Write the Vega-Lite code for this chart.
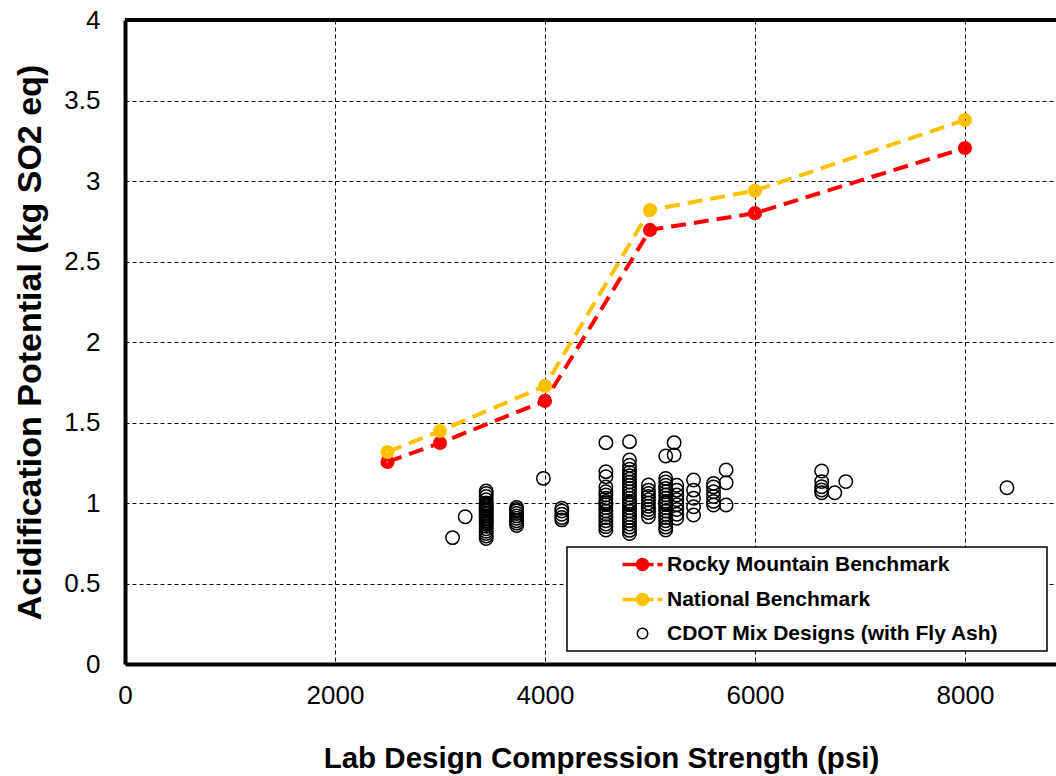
{
  "$schema": "https://vega.github.io/schema/vega-lite/v6.json",
  "width": 931,
  "height": 644,
  "autosize": "none",
  "padding": {"left": 125, "top": 20, "right": 0, "bottom": 112},
  "background": "white",
  "config": {"view": {"stroke": null}, "font": "Liberation Sans"},
  "datasets": {
    "main": [
      {"s": "Rocky Mountain Benchmark", "x": 2500, "y": 1.255},
      {"s": "Rocky Mountain Benchmark", "x": 3000, "y": 1.373},
      {"s": "Rocky Mountain Benchmark", "x": 4000, "y": 1.634},
      {"s": "Rocky Mountain Benchmark", "x": 5000, "y": 2.696},
      {"s": "Rocky Mountain Benchmark", "x": 6000, "y": 2.8},
      {"s": "Rocky Mountain Benchmark", "x": 8000, "y": 3.205},
      {"s": "National Benchmark", "x": 2500, "y": 1.317},
      {"s": "National Benchmark", "x": 3000, "y": 1.447},
      {"s": "National Benchmark", "x": 4000, "y": 1.727},
      {"s": "National Benchmark", "x": 5000, "y": 2.82},
      {"s": "National Benchmark", "x": 6000, "y": 2.94},
      {"s": "National Benchmark", "x": 8000, "y": 3.379},
      {"s": "CDOT Mix Designs (with Fly Ash)", "x": 3120, "y": 0.785},
      {"s": "CDOT Mix Designs (with Fly Ash)", "x": 3240, "y": 0.915},
      {"s": "CDOT Mix Designs (with Fly Ash)", "x": 3440, "y": 0.78},
      {"s": "CDOT Mix Designs (with Fly Ash)", "x": 3440, "y": 0.795},
      {"s": "CDOT Mix Designs (with Fly Ash)", "x": 3440, "y": 0.81},
      {"s": "CDOT Mix Designs (with Fly Ash)", "x": 3440, "y": 0.825},
      {"s": "CDOT Mix Designs (with Fly Ash)", "x": 3440, "y": 0.84},
      {"s": "CDOT Mix Designs (with Fly Ash)", "x": 3440, "y": 0.855},
      {"s": "CDOT Mix Designs (with Fly Ash)", "x": 3440, "y": 0.87},
      {"s": "CDOT Mix Designs (with Fly Ash)", "x": 3440, "y": 0.88},
      {"s": "CDOT Mix Designs (with Fly Ash)", "x": 3440, "y": 0.89},
      {"s": "CDOT Mix Designs (with Fly Ash)", "x": 3440, "y": 0.9},
      {"s": "CDOT Mix Designs (with Fly Ash)", "x": 3440, "y": 0.91},
      {"s": "CDOT Mix Designs (with Fly Ash)", "x": 3440, "y": 0.92},
      {"s": "CDOT Mix Designs (with Fly Ash)", "x": 3440, "y": 0.93},
      {"s": "CDOT Mix Designs (with Fly Ash)", "x": 3440, "y": 0.94},
      {"s": "CDOT Mix Designs (with Fly Ash)", "x": 3440, "y": 0.95},
      {"s": "CDOT Mix Designs (with Fly Ash)", "x": 3440, "y": 0.96},
      {"s": "CDOT Mix Designs (with Fly Ash)", "x": 3440, "y": 0.97},
      {"s": "CDOT Mix Designs (with Fly Ash)", "x": 3440, "y": 0.98},
      {"s": "CDOT Mix Designs (with Fly Ash)", "x": 3440, "y": 0.99},
      {"s": "CDOT Mix Designs (with Fly Ash)", "x": 3440, "y": 1.0},
      {"s": "CDOT Mix Designs (with Fly Ash)", "x": 3440, "y": 1.02},
      {"s": "CDOT Mix Designs (with Fly Ash)", "x": 3440, "y": 1.04},
      {"s": "CDOT Mix Designs (with Fly Ash)", "x": 3440, "y": 1.06},
      {"s": "CDOT Mix Designs (with Fly Ash)", "x": 3440, "y": 1.075},
      {"s": "CDOT Mix Designs (with Fly Ash)", "x": 3730, "y": 0.86},
      {"s": "CDOT Mix Designs (with Fly Ash)", "x": 3730, "y": 0.875},
      {"s": "CDOT Mix Designs (with Fly Ash)", "x": 3730, "y": 0.89},
      {"s": "CDOT Mix Designs (with Fly Ash)", "x": 3730, "y": 0.905},
      {"s": "CDOT Mix Designs (with Fly Ash)", "x": 3730, "y": 0.92},
      {"s": "CDOT Mix Designs (with Fly Ash)", "x": 3730, "y": 0.935},
      {"s": "CDOT Mix Designs (with Fly Ash)", "x": 3730, "y": 0.95},
      {"s": "CDOT Mix Designs (with Fly Ash)", "x": 3730, "y": 0.96},
      {"s": "CDOT Mix Designs (with Fly Ash)", "x": 3730, "y": 0.973},
      {"s": "CDOT Mix Designs (with Fly Ash)", "x": 3985, "y": 1.153},
      {"s": "CDOT Mix Designs (with Fly Ash)", "x": 4160, "y": 0.895},
      {"s": "CDOT Mix Designs (with Fly Ash)", "x": 4160, "y": 0.91},
      {"s": "CDOT Mix Designs (with Fly Ash)", "x": 4160, "y": 0.93},
      {"s": "CDOT Mix Designs (with Fly Ash)", "x": 4160, "y": 0.95},
      {"s": "CDOT Mix Designs (with Fly Ash)", "x": 4160, "y": 0.967},
      {"s": "CDOT Mix Designs (with Fly Ash)", "x": 4580, "y": 0.832},
      {"s": "CDOT Mix Designs (with Fly Ash)", "x": 4580, "y": 0.853},
      {"s": "CDOT Mix Designs (with Fly Ash)", "x": 4580, "y": 0.87},
      {"s": "CDOT Mix Designs (with Fly Ash)", "x": 4580, "y": 0.89},
      {"s": "CDOT Mix Designs (with Fly Ash)", "x": 4580, "y": 0.91},
      {"s": "CDOT Mix Designs (with Fly Ash)", "x": 4580, "y": 0.93},
      {"s": "CDOT Mix Designs (with Fly Ash)", "x": 4580, "y": 0.95},
      {"s": "CDOT Mix Designs (with Fly Ash)", "x": 4580, "y": 0.97},
      {"s": "CDOT Mix Designs (with Fly Ash)", "x": 4580, "y": 0.99},
      {"s": "CDOT Mix Designs (with Fly Ash)", "x": 4580, "y": 1.0},
      {"s": "CDOT Mix Designs (with Fly Ash)", "x": 4580, "y": 1.01},
      {"s": "CDOT Mix Designs (with Fly Ash)", "x": 4580, "y": 1.03},
      {"s": "CDOT Mix Designs (with Fly Ash)", "x": 4580, "y": 1.05},
      {"s": "CDOT Mix Designs (with Fly Ash)", "x": 4580, "y": 1.07},
      {"s": "CDOT Mix Designs (with Fly Ash)", "x": 4580, "y": 1.1},
      {"s": "CDOT Mix Designs (with Fly Ash)", "x": 4580, "y": 1.163},
      {"s": "CDOT Mix Designs (with Fly Ash)", "x": 4580, "y": 1.195},
      {"s": "CDOT Mix Designs (with Fly Ash)", "x": 4580, "y": 1.375},
      {"s": "CDOT Mix Designs (with Fly Ash)", "x": 4805, "y": 0.81},
      {"s": "CDOT Mix Designs (with Fly Ash)", "x": 4805, "y": 0.83},
      {"s": "CDOT Mix Designs (with Fly Ash)", "x": 4805, "y": 0.85},
      {"s": "CDOT Mix Designs (with Fly Ash)", "x": 4805, "y": 0.87},
      {"s": "CDOT Mix Designs (with Fly Ash)", "x": 4805, "y": 0.89},
      {"s": "CDOT Mix Designs (with Fly Ash)", "x": 4805, "y": 0.91},
      {"s": "CDOT Mix Designs (with Fly Ash)", "x": 4805, "y": 0.93},
      {"s": "CDOT Mix Designs (with Fly Ash)", "x": 4805, "y": 0.95},
      {"s": "CDOT Mix Designs (with Fly Ash)", "x": 4805, "y": 0.97},
      {"s": "CDOT Mix Designs (with Fly Ash)", "x": 4805, "y": 0.99},
      {"s": "CDOT Mix Designs (with Fly Ash)", "x": 4805, "y": 1.0},
      {"s": "CDOT Mix Designs (with Fly Ash)", "x": 4805, "y": 1.01},
      {"s": "CDOT Mix Designs (with Fly Ash)", "x": 4805, "y": 1.03},
      {"s": "CDOT Mix Designs (with Fly Ash)", "x": 4805, "y": 1.05},
      {"s": "CDOT Mix Designs (with Fly Ash)", "x": 4805, "y": 1.07},
      {"s": "CDOT Mix Designs (with Fly Ash)", "x": 4805, "y": 1.09},
      {"s": "CDOT Mix Designs (with Fly Ash)", "x": 4805, "y": 1.11},
      {"s": "CDOT Mix Designs (with Fly Ash)", "x": 4805, "y": 1.13},
      {"s": "CDOT Mix Designs (with Fly Ash)", "x": 4805, "y": 1.15},
      {"s": "CDOT Mix Designs (with Fly Ash)", "x": 4805, "y": 1.17},
      {"s": "CDOT Mix Designs (with Fly Ash)", "x": 4805, "y": 1.19},
      {"s": "CDOT Mix Designs (with Fly Ash)", "x": 4805, "y": 1.21},
      {"s": "CDOT Mix Designs (with Fly Ash)", "x": 4805, "y": 1.235},
      {"s": "CDOT Mix Designs (with Fly Ash)", "x": 4805, "y": 1.267},
      {"s": "CDOT Mix Designs (with Fly Ash)", "x": 4805, "y": 1.381},
      {"s": "CDOT Mix Designs (with Fly Ash)", "x": 4985, "y": 0.915},
      {"s": "CDOT Mix Designs (with Fly Ash)", "x": 4985, "y": 0.94},
      {"s": "CDOT Mix Designs (with Fly Ash)", "x": 4985, "y": 0.96},
      {"s": "CDOT Mix Designs (with Fly Ash)", "x": 4985, "y": 0.98},
      {"s": "CDOT Mix Designs (with Fly Ash)", "x": 4985, "y": 1.0},
      {"s": "CDOT Mix Designs (with Fly Ash)", "x": 4985, "y": 1.02},
      {"s": "CDOT Mix Designs (with Fly Ash)", "x": 4985, "y": 1.04},
      {"s": "CDOT Mix Designs (with Fly Ash)", "x": 4985, "y": 1.06},
      {"s": "CDOT Mix Designs (with Fly Ash)", "x": 4985, "y": 1.08},
      {"s": "CDOT Mix Designs (with Fly Ash)", "x": 4985, "y": 1.112},
      {"s": "CDOT Mix Designs (with Fly Ash)", "x": 5150, "y": 0.832},
      {"s": "CDOT Mix Designs (with Fly Ash)", "x": 5150, "y": 0.85},
      {"s": "CDOT Mix Designs (with Fly Ash)", "x": 5150, "y": 0.87},
      {"s": "CDOT Mix Designs (with Fly Ash)", "x": 5150, "y": 0.89},
      {"s": "CDOT Mix Designs (with Fly Ash)", "x": 5150, "y": 0.91},
      {"s": "CDOT Mix Designs (with Fly Ash)", "x": 5150, "y": 0.93},
      {"s": "CDOT Mix Designs (with Fly Ash)", "x": 5150, "y": 0.95},
      {"s": "CDOT Mix Designs (with Fly Ash)", "x": 5150, "y": 0.97},
      {"s": "CDOT Mix Designs (with Fly Ash)", "x": 5150, "y": 0.99},
      {"s": "CDOT Mix Designs (with Fly Ash)", "x": 5150, "y": 1.0},
      {"s": "CDOT Mix Designs (with Fly Ash)", "x": 5150, "y": 1.01},
      {"s": "CDOT Mix Designs (with Fly Ash)", "x": 5150, "y": 1.03},
      {"s": "CDOT Mix Designs (with Fly Ash)", "x": 5150, "y": 1.05},
      {"s": "CDOT Mix Designs (with Fly Ash)", "x": 5150, "y": 1.07},
      {"s": "CDOT Mix Designs (with Fly Ash)", "x": 5150, "y": 1.09},
      {"s": "CDOT Mix Designs (with Fly Ash)", "x": 5150, "y": 1.11},
      {"s": "CDOT Mix Designs (with Fly Ash)", "x": 5150, "y": 1.13},
      {"s": "CDOT Mix Designs (with Fly Ash)", "x": 5150, "y": 1.153},
      {"s": "CDOT Mix Designs (with Fly Ash)", "x": 5150, "y": 1.292},
      {"s": "CDOT Mix Designs (with Fly Ash)", "x": 5230, "y": 1.375},
      {"s": "CDOT Mix Designs (with Fly Ash)", "x": 5230, "y": 1.298},
      {"s": "CDOT Mix Designs (with Fly Ash)", "x": 5255, "y": 0.905},
      {"s": "CDOT Mix Designs (with Fly Ash)", "x": 5255, "y": 0.93},
      {"s": "CDOT Mix Designs (with Fly Ash)", "x": 5255, "y": 0.96},
      {"s": "CDOT Mix Designs (with Fly Ash)", "x": 5255, "y": 0.99},
      {"s": "CDOT Mix Designs (with Fly Ash)", "x": 5255, "y": 1.02},
      {"s": "CDOT Mix Designs (with Fly Ash)", "x": 5255, "y": 1.05},
      {"s": "CDOT Mix Designs (with Fly Ash)", "x": 5255, "y": 1.08},
      {"s": "CDOT Mix Designs (with Fly Ash)", "x": 5255, "y": 1.11},
      {"s": "CDOT Mix Designs (with Fly Ash)", "x": 5415, "y": 0.925},
      {"s": "CDOT Mix Designs (with Fly Ash)", "x": 5415, "y": 0.977},
      {"s": "CDOT Mix Designs (with Fly Ash)", "x": 5415, "y": 1.029},
      {"s": "CDOT Mix Designs (with Fly Ash)", "x": 5415, "y": 1.08},
      {"s": "CDOT Mix Designs (with Fly Ash)", "x": 5415, "y": 1.143},
      {"s": "CDOT Mix Designs (with Fly Ash)", "x": 5605, "y": 0.988},
      {"s": "CDOT Mix Designs (with Fly Ash)", "x": 5605, "y": 1.01},
      {"s": "CDOT Mix Designs (with Fly Ash)", "x": 5605, "y": 1.04},
      {"s": "CDOT Mix Designs (with Fly Ash)", "x": 5605, "y": 1.07},
      {"s": "CDOT Mix Designs (with Fly Ash)", "x": 5605, "y": 1.1},
      {"s": "CDOT Mix Designs (with Fly Ash)", "x": 5605, "y": 1.122},
      {"s": "CDOT Mix Designs (with Fly Ash)", "x": 5725, "y": 0.988},
      {"s": "CDOT Mix Designs (with Fly Ash)", "x": 5725, "y": 1.126},
      {"s": "CDOT Mix Designs (with Fly Ash)", "x": 5725, "y": 1.205},
      {"s": "CDOT Mix Designs (with Fly Ash)", "x": 6635, "y": 1.064},
      {"s": "CDOT Mix Designs (with Fly Ash)", "x": 6635, "y": 1.081},
      {"s": "CDOT Mix Designs (with Fly Ash)", "x": 6635, "y": 1.101},
      {"s": "CDOT Mix Designs (with Fly Ash)", "x": 6635, "y": 1.133},
      {"s": "CDOT Mix Designs (with Fly Ash)", "x": 6635, "y": 1.199},
      {"s": "CDOT Mix Designs (with Fly Ash)", "x": 6760, "y": 1.064},
      {"s": "CDOT Mix Designs (with Fly Ash)", "x": 6865, "y": 1.133},
      {"s": "CDOT Mix Designs (with Fly Ash)", "x": 8400, "y": 1.095}
    ],
    "border": [{"top": 4}]
  },
  "layer": [
    {
      "data": {"name": "border"},
      "mark": {"type": "rule", "color": "black", "strokeWidth": 4},
      "encoding": {
        "y": {"field": "top", "type": "quantitative", "scale": {"domain": [0, 4], "nice": false}}
      }
    },
    {
      "data": {"name": "main"},
      "transform": [{"filter": "datum.s !== 'CDOT Mix Designs (with Fly Ash)'"}],
      "mark": {"type": "line", "strokeDash": [15, 8], "strokeWidth": 4},
      "encoding": {
        "x": {
          "field": "x", "type": "quantitative",
          "scale": {"domain": [0, 8867], "nice": false, "zero": false},
          "axis": {
            "title": "Lab Design Compression Strength (psi)",
            "values": [0, 2000, 4000, 6000, 8000],
            "format": "d",
            "grid": true, "gridColor": "black", "gridDash": [4, 3], "gridWidth": 1, "gridOpacity": 1,
            "ticks": false, "tickSize": 0,
            "domain": true, "domainColor": "black", "domainWidth": 4,
            "labelFont": "Liberation Sans", "labelFontSize": 26, "labelColor": "black", "labelPadding": 18,
            "labelBaseline": "top", "labelFlush": false,
            "titleFont": "Liberation Sans", "titleFontSize": 29.5, "titleFontWeight": "bold", "titleColor": "black",
            "titleX": 476, "titleY": 103, "titleBaseline": "alphabetic", "titleAlign": "center"
          }
        },
        "y": {
          "field": "y", "type": "quantitative",
          "scale": {"domain": [0, 4], "nice": false},
          "axis": {
            "title": "Acidification Potential (kg SO2 eq)",
            "values": [0, 0.5, 1, 1.5, 2, 2.5, 3, 3.5, 4],
            "format": "~g",
            "grid": true, "gridColor": "black", "gridDash": [4, 3], "gridWidth": 1, "gridOpacity": 1,
            "ticks": false, "tickSize": 0,
            "domain": true, "domainColor": "black", "domainWidth": 4,
            "labelFont": "Liberation Sans", "labelFontSize": 26, "labelColor": "black", "labelPadding": 25,
            "labelFlush": false,
            "titleFont": "Liberation Sans", "titleFontSize": 34, "titleFontWeight": "bold", "titleColor": "black",
            "titleX": -95, "titleY": 322, "titleAngle": -90, "titleBaseline": "middle", "titleAlign": "center"
          }
        },
        "color": {
          "field": "s", "type": "nominal",
          "scale": {
            "domain": ["Rocky Mountain Benchmark", "National Benchmark", "CDOT Mix Designs (with Fly Ash)"],
            "range": ["#FF0000", "#FFC000", "#000000"]
          },
          "legend": {
            "title": null, "orient": "none", "legendX": 442, "legendY": 527, "direction": "vertical",
            "fillColor": "white", "strokeColor": "black",
            "padding": 7, "rowPadding": 10,
            "labelFont": "Liberation Sans", "labelFontSize": 21, "labelFontWeight": "bold", "labelColor": "black",
            "labelLimit": 0, "symbolSize": 1600, "symbolOffset": 58, "labelOffset": 14,
            "labelExpr": "datum.label + '\u00a0\u00a0\u00a0\u00a0\u00a0\u00a0\u00a0\u200b'",
            "encode": {
              "legend": {"update": {"strokeWidth": {"value": 1.5}}},
              "symbols": {
                "update": {
                  "shape": {"signal": "datum.value === 'CDOT Mix Designs (with Fly Ash)' ? 'circle' : 'M-1,0L0.55,0M0.75,0L1,0M0.25,0A0.25,0.25,0,1,1,-0.25,0A0.25,0.25,0,1,1,0.25,0Z'"},
                  "size": {"signal": "datum.value === 'CDOT Mix Designs (with Fly Ash)' ? 110 : 1600"},
                  "fill": {"signal": "datum.value === 'CDOT Mix Designs (with Fly Ash)' ? 'white' : (datum.value === 'National Benchmark' ? '#FFC000' : '#FF0000')"},
                  "stroke": {"signal": "datum.value === 'CDOT Mix Designs (with Fly Ash)' ? 'black' : (datum.value === 'National Benchmark' ? '#FFC000' : '#FF0000')"},
                  "strokeWidth": {"signal": "datum.value === 'CDOT Mix Designs (with Fly Ash)' ? 1.5 : 3.5"},
                  "strokeDash": {"value": []},
                  "opacity": {"value": 1}
                }
              }
            }
          }
        }
      }
    },
    {
      "data": {"name": "main"},
      "transform": [{"filter": "datum.s !== 'CDOT Mix Designs (with Fly Ash)'"}],
      "mark": {"type": "point", "filled": false, "size": 38, "strokeWidth": 8, "opacity": 1},
      "encoding": {
        "x": {"field": "x", "type": "quantitative"},
        "y": {"field": "y", "type": "quantitative"},
        "color": {"field": "s", "type": "nominal"}
      }
    },
    {
      "data": {"name": "main"},
      "transform": [{"filter": "datum.s === 'CDOT Mix Designs (with Fly Ash)'"}],
      "mark": {"type": "point", "filled": false, "size": 180, "strokeWidth": 1.5, "opacity": 1},
      "encoding": {
        "x": {"field": "x", "type": "quantitative"},
        "y": {"field": "y", "type": "quantitative"},
        "color": {"field": "s", "type": "nominal"}
      }
    }
  ]
}
